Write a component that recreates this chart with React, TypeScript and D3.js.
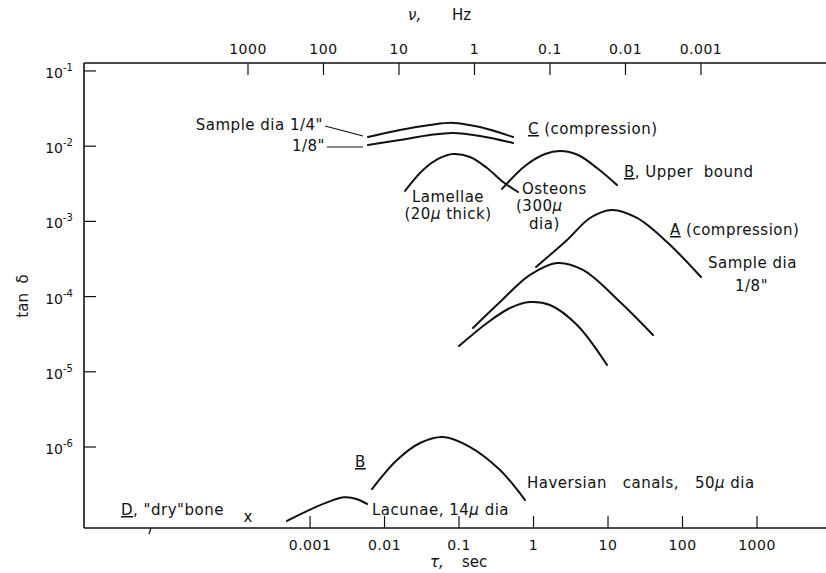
import React, { useEffect, useRef } from "react";
import * as d3 from "d3";

type Pt = [number, number]; // [tau (s), tan delta]

// ---- axis ticks ----
const tauTicks = [0.001, 0.01, 0.1, 1, 10, 100, 1000];
const tauTickLabels = ["0.001", "0.01", "0.1", "1", "10", "100", "1000"];
const nuTicks = [1000, 100, 10, 1, 0.1, 0.01, 0.001];
const nuTickLabels = ["1000", "100", "10", "1", "0.1", "0.01", "0.001"];
const tanTicks = [1e-1, 1e-2, 1e-3, 1e-4, 1e-5, 1e-6];
const tanTickExponents = ["-1", "-2", "-3", "-4", "-5", "-6"];

// ---- curves ----
const cQuarter: Pt[] = [
  [0.006, 0.01324], [0.0161, 0.0164], [0.0408, 0.0191], [0.083, 0.0204],
  [0.191, 0.018], [0.531, 0.01324],
];
const cEighth: Pt[] = [
  [0.006, 0.01037], [0.0161, 0.01208], [0.0408, 0.01409], [0.083, 0.015],
  [0.191, 0.01367], [0.531, 0.01104],
];
const lamellae: Pt[] = [
  [0.01884, 0.00254], [0.0329, 0.00483], [0.0556, 0.00697], [0.083, 0.00787],
  [0.1406, 0.00718], [0.2377, 0.00513], [0.39, 0.00334], [0.619, 0.00246],
];
const osteons: Pt[] = [
  [0.378, 0.0027], [0.769, 0.00546], [1.427, 0.00787], [2.27, 0.00863],
  [3.96, 0.00764], [7.11, 0.00513], [13.2, 0.00305],
];
const aCompression: Pt[] = [
  [1.08, 0.000248], [2.82, 0.000566], [5.73, 0.00111], [11.3, 0.00142],
  [24.5, 0.00111], [61.9, 0.000532], [177, 0.000182],
];
const middleCurve: Pt[] = [
  [0.154, 3.82e-5], [0.355, 8.47e-5], [0.897, 1.94e-4], [2.07, 2.8e-4],
  [4.61, 2.26e-4], [14.5, 8.47e-5], [40.2, 3.08e-5],
];
const lowerCurve: Pt[] = [
  [0.1, 2.2e-5], [0.238, 4.46e-5], [0.484, 7.05e-5], [0.897, 8.47e-5],
  [1.66, 7.73e-5], [3.84, 4.19e-5], [9.7, 1.23e-5],
];
const haversian: Pt[] = [
  [0.00679, 2.76e-7], [0.0147, 6.71e-7], [0.03, 1.13e-6], [0.061, 1.36e-6],
  [0.141, 1.0e-6], [0.355, 4.94e-7], [0.769, 1.97e-7],
];
const lacunae: Pt[] = [
  [4.91e-4, 1.04e-7], [0.001, 1.47e-7], [0.0018, 1.88e-7], [0.0029, 2.14e-7],
  [0.0042, 2.04e-7], [0.00582, 1.75e-7],
];
const dryBone: Pt = [1.47e-4, 1.14e-7];
const extraTauMark = 7.1e-6;

const curves = [cQuarter, cEighth, lamellae, osteons, aCompression, middleCurve, lowerCurve, haversian, lacunae];

type Label = {
  x: number;
  y: number;
  anchor?: string;
  parts: { t: string; u?: boolean; i?: boolean }[];
};

const labels: Label[] = [
  { x: 323, y: 130, anchor: "end", parts: [{ t: 'Sample dia 1/4"' }] },
  { x: 325, y: 151, anchor: "end", parts: [{ t: '1/8"' }] },
  { x: 528, y: 134, parts: [{ t: "C", u: true }, { t: " (compression)" }] },
  { x: 624, y: 177, parts: [{ t: "B", u: true }, { t: ", Upper  bound" }] },
  { x: 448, y: 202, anchor: "middle", parts: [{ t: "Lamellae" }] },
  { x: 448, y: 219, anchor: "middle", parts: [{ t: "(20" }, { t: "μ", i: true }, { t: " thick)" }] },
  { x: 522, y: 194, parts: [{ t: "Osteons" }] },
  { x: 516, y: 211, parts: [{ t: "(300" }, { t: "μ", i: true }] },
  { x: 529, y: 229, parts: [{ t: "dia)" }] },
  { x: 670, y: 235, parts: [{ t: "A", u: true }, { t: " (compression)" }] },
  { x: 708, y: 268, parts: [{ t: "Sample dia" }] },
  { x: 735, y: 291, parts: [{ t: '1/8"' }] },
  { x: 355, y: 467, parts: [{ t: "B", u: true }] },
  { x: 527, y: 488, parts: [{ t: "Haversian   canals,   50" }, { t: "μ", i: true }, { t: " dia" }] },
  { x: 372, y: 515, parts: [{ t: "Lacunae, 14" }, { t: "μ", i: true }, { t: " dia" }] },
  { x: 121, y: 515, parts: [{ t: "D", u: true }, { t: ', "dry"bone' }] },
];

const App: React.FC = () => {
  const svgRef = useRef<SVGSVGElement | null>(null);

  useEffect(() => {
    if (!svgRef.current) return;
    document.body.style.margin = "0";

    const width = 826;
    const height = 573;
    const left = 84;
    const right = 826;
    const top = 63;
    const bottom = 528;
    const font = "'DejaVu Sans', sans-serif";

    const x = d3.scaleLog().domain([10 ** -6.034, 10 ** 3.926]).range([left, right]);
    const xTop = d3.scaleLog().domain([10 ** 5.172, 10 ** -4.656]).range([left, right]);
    const y = d3.scaleLog().domain([10 ** -7.077, 10 ** -0.894]).range([bottom, top]);

    const svg = d3
      .select(svgRef.current)
      .attr("viewBox", [0, 0, width, height])
      .attr("width", width)
      .attr("height", height)
      .style("display", "block")
      .style("background", "#fff");

    // frame
    const frame = svg.append("g").attr("stroke", "#111").attr("fill", "none");
    frame.append("line").attr("x1", left).attr("x2", right).attr("y1", top).attr("y2", top).attr("stroke-width", 1.6);
    frame.append("line").attr("x1", left).attr("x2", right).attr("y1", bottom).attr("y2", bottom).attr("stroke-width", 1.6);
    frame.append("line").attr("x1", left).attr("x2", left).attr("y1", top).attr("y2", bottom).attr("stroke-width", 1.6);

    // left ticks
    tanTicks.forEach((v, i) => {
      frame.append("line").attr("x1", left).attr("x2", left + 12).attr("y1", y(v)).attr("y2", y(v)).attr("stroke-width", 1.2);
      const t = svg
        .append("text")
        .attr("x", left - 11)
        .attr("y", y(v) + 7)
        .attr("text-anchor", "end")
        .attr("font-family", font)
        .attr("font-size", 14)
        .attr("fill", "#111");
      t.append("tspan").text("10");
      t.append("tspan").attr("dy", -7).attr("font-size", 10).text(tanTickExponents[i]);
    });

    // bottom ticks
    tauTicks.forEach((v, i) => {
      frame.append("line").attr("x1", x(v)).attr("x2", x(v)).attr("y1", bottom).attr("y2", bottom - 12).attr("stroke-width", 1.2);
      svg
        .append("text")
        .attr("x", x(v))
        .attr("y", 550)
        .attr("text-anchor", "middle")
        .attr("font-family", font)
        .attr("font-size", 14)
        .attr("letter-spacing", 0.5)
        .attr("fill", "#111")
        .text(tauTickLabels[i]);
    });
    frame
      .append("line")
      .attr("x1", x(extraTauMark) + 1)
      .attr("x2", x(extraTauMark) - 1)
      .attr("y1", bottom)
      .attr("y2", bottom + 6)
      .attr("stroke-width", 1.2);

    // top ticks
    nuTicks.forEach((v, i) => {
      frame.append("line").attr("x1", xTop(v)).attr("x2", xTop(v)).attr("y1", top).attr("y2", top + 12).attr("stroke-width", 1.2);
      svg
        .append("text")
        .attr("x", xTop(v))
        .attr("y", 54)
        .attr("text-anchor", "middle")
        .attr("font-family", font)
        .attr("font-size", 14)
        .attr("letter-spacing", 0.5)
        .attr("fill", "#111")
        .text(nuTickLabels[i]);
    });

    // axis titles
    const topTitle = svg.append("text").attr("y", 20).attr("font-family", font).attr("font-size", 15).attr("fill", "#111");
    topTitle.append("tspan").attr("x", 408).attr("font-style", "italic").text("ν,");
    topTitle.append("tspan").attr("x", 452).text("Hz");
    const bottomTitle = svg.append("text").attr("y", 567).attr("font-family", font).attr("font-size", 15).attr("fill", "#111");
    bottomTitle.append("tspan").attr("x", 430).attr("font-style", "italic").text("τ,");
    bottomTitle.append("tspan").attr("x", 462).text("sec");
    svg
      .append("text")
      .attr("transform", "translate(28,296) rotate(-90)")
      .attr("text-anchor", "middle")
      .attr("font-family", font)
      .attr("font-size", 15)
      .attr("fill", "#111")
      .style("white-space", "pre")
      .text("tan  δ");

    // curves
    const line = d3
      .line<Pt>()
      .curve(d3.curveCatmullRom.alpha(0.5))
      .x((d) => x(d[0]))
      .y((d) => y(d[1]));
    svg
      .append("g")
      .selectAll("path")
      .data(curves)
      .join("path")
      .attr("d", (d) => line(d))
      .attr("fill", "none")
      .attr("stroke", "#111")
      .attr("stroke-width", 2)
      .attr("stroke-linecap", "round");

    // leader lines for sample diameter labels
    const leaders = svg.append("g").attr("stroke", "#111").attr("stroke-width", 1.1);
    leaders
      .append("line")
      .attr("x1", 325)
      .attr("y1", 126)
      .attr("x2", x(cQuarter[0][0]) - 5)
      .attr("y2", y(cQuarter[0][1]) - 1);
    leaders
      .append("line")
      .attr("x1", 327)
      .attr("y1", 147)
      .attr("x2", x(cEighth[0][0]) - 5)
      .attr("y2", 147);

    // dry bone point
    svg
      .append("text")
      .attr("x", x(dryBone[0]))
      .attr("y", y(dryBone[1]))
      .attr("dy", "0.3em")
      .attr("text-anchor", "middle")
      .attr("font-family", font)
      .attr("font-size", 15)
      .attr("fill", "#111")
      .text("x");

    // annotations
    labels.forEach((l) => {
      const t = svg
        .append("text")
        .attr("x", l.x)
        .attr("y", l.y)
        .attr("text-anchor", l.anchor ?? "start")
        .attr("font-family", font)
        .attr("font-size", 15)
        .attr("letter-spacing", 0.5)
        .attr("fill", "#111")
        .style("white-space", "pre");
      l.parts.forEach((p) => {
        const s = t.append("tspan").text(p.t);
        if (p.u) s.style("text-decoration", "underline");
        if (p.i) s.attr("font-style", "italic");
      });
    });

    return () => {
      svg.selectAll("*").remove();
    };
  }, []);

  return <svg ref={svgRef}></svg>;
};

export default App;
